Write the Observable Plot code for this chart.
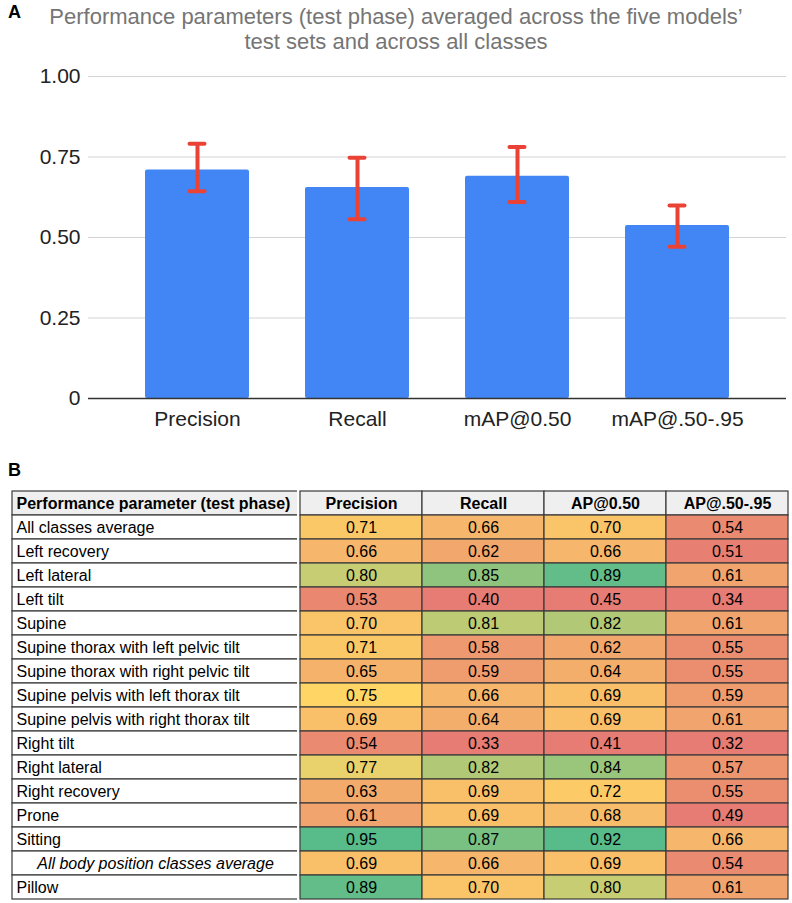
<!DOCTYPE html>
<html>
<head>
<meta charset="utf-8">
<script src="https://cdn.jsdelivr.net/npm/d3@7"></script>
<script src="https://cdn.jsdelivr.net/npm/@observablehq/plot@0.6"></script>
<style>
  html, body { margin: 0; padding: 0; background: #fff; }
  #page { position: relative; width: 792px; height: 903px; overflow: hidden; font-family: "Liberation Sans", Arial, sans-serif; }
  .panel { position: absolute; font-weight: bold; font-size: 18px; color: #000; font-family: "Liberation Sans", Arial, sans-serif; }
  #title { position: absolute; left: 0; top: 4px; width: 792px; text-align: center; font-family: "Liberation Sans", Arial, sans-serif; font-size: 22px; line-height: 25px; color: #757575; }
  #chartA { position: absolute; left: 0; top: 56px; }
  #tblL { position: absolute; left: 11px; top: 486px; }
  #tblR { position: absolute; left: 297px; top: 486px; }
</style>
</head>
<body>
<div id="page">
  <div class="panel" style="left:8px; top:2px;">A</div>
  <div id="title">Performance parameters (test phase) averaged across the five models’<br>test sets and across all classes</div>
  <div id="chartA"></div>
  <div class="panel" style="left:8px; top:460px;">B</div>
  <div id="tblL"></div>
  <div id="tblR"></div>
</div>
<script>
// ---------- Panel A data ----------
const metrics = ["Precision", "Recall", "mAP@0.50", "mAP@.50-.95"];
const meanValues = [0.71, 0.655, 0.69, 0.537];
const errLow = [0.644, 0.557, 0.610, 0.471];
const errHigh = [0.791, 0.748, 0.781, 0.599];
const yTicks = [0, 0.25, 0.5, 0.75, 1];

// ---------- Panel B data ----------
const tableHeader = "Performance parameter (test phase)";
const tableColumns = ["Precision", "Recall", "AP@0.50", "AP@.50-.95"];
const rowLabels = [
  "All classes average",
  "Left recovery",
  "Left lateral",
  "Left tilt",
  "Supine",
  "Supine thorax with left pelvic tilt",
  "Supine thorax with right pelvic tilt",
  "Supine pelvis with left thorax tilt",
  "Supine pelvis with right thorax tilt",
  "Right tilt",
  "Right lateral",
  "Right recovery",
  "Prone",
  "Sitting",
  "All body position classes average",
  "Pillow"
];
const italicRow = "All body position classes average";
const precisionVals = [0.71, 0.66, 0.80, 0.53, 0.70, 0.71, 0.65, 0.75, 0.69, 0.54, 0.77, 0.63, 0.61, 0.95, 0.69, 0.89];
const recallVals    = [0.66, 0.62, 0.85, 0.40, 0.81, 0.58, 0.59, 0.66, 0.64, 0.33, 0.82, 0.69, 0.69, 0.87, 0.66, 0.70];
const ap50Vals      = [0.70, 0.66, 0.89, 0.45, 0.82, 0.62, 0.64, 0.69, 0.69, 0.41, 0.84, 0.72, 0.68, 0.92, 0.69, 0.80];
const ap5095Vals    = [0.54, 0.51, 0.61, 0.34, 0.61, 0.55, 0.55, 0.59, 0.61, 0.32, 0.57, 0.55, 0.49, 0.66, 0.54, 0.61];
const colorDomain = [0.5, 0.75, 0.9];
const colorRange = ["#e67c73", "#ffd666", "#57bb8a"];

// ---------- Panel A ----------
const barData = metrics.map((m, i) => ({metric: m, value: meanValues[i], lo: errLow[i], hi: errHigh[i]}));

const chartA = Plot.plot({
  width: 792,
  height: 386,
  marginTop: 20,
  marginBottom: 44,
  marginLeft: 88,
  marginRight: 6,
  style: {fontFamily: "'Liberation Sans', Arial, sans-serif", fontSize: "21px", color: "#222", background: "white"},
  x: {domain: metrics, padding: 0.35, tickSize: 0, tickPadding: 13, label: null},
  y: {domain: [0, 1], ticks: yTicks, tickSize: 0, tickPadding: 8, label: null,
      tickFormat: d => d === 0 ? "0" : d.toFixed(2)},
  marks: [
    Plot.ruleY(yTicks.filter(t => t > 0), {stroke: "#d3d3d3", strokeWidth: 1.2}),
    Plot.barY(barData, {x: "metric", y: "value", fill: "#4285f4", rx: 2}),
    Plot.ruleY([0], {stroke: "#333", strokeWidth: 1.3}),
    Plot.ruleX(barData, {x: "metric", y1: "lo", y2: "hi", stroke: "#ea4335", strokeWidth: 4}),
    Plot.tickY(barData, {x: "metric", y: "lo", stroke: "#ea4335", strokeWidth: 4, inset: 44.5, strokeLinecap: "round"}),
    Plot.tickY(barData, {x: "metric", y: "hi", stroke: "#ea4335", strokeWidth: 4, inset: 44.5, strokeLinecap: "round"})
  ]
});
document.getElementById("chartA").appendChild(chartA);

// ---------- Panel B ----------
const yDomain = [tableHeader, ...rowLabels];
const colArrays = [precisionVals, recallVals, ap50Vals, ap5095Vals];
const cells = [];
tableColumns.forEach((c, j) => rowLabels.forEach((r, i) => cells.push({column: c, row: r, value: colArrays[j][i]})));

const tableHeight = 417;
const tableStyle = {fontFamily: "'Liberation Sans', Arial, sans-serif", fontSize: "16px", color: "#000", background: "white", overflow: "visible"};
const borderColor = "#3a3a3a";

const tblL = Plot.plot({
  width: 288,
  height: tableHeight,
  margin: 1,
  style: tableStyle,
  x: {domain: ["label"], padding: 0, axis: null},
  y: {domain: yDomain, padding: 0, axis: null},
  marks: [
    Plot.cell([tableHeader], {x: () => "label", y: d => d, fill: "#efefef", stroke: borderColor, strokeWidth: 1.2}),
    Plot.cell(rowLabels, {x: () => "label", y: d => d, fill: "white", stroke: borderColor, strokeWidth: 1.2}),
    Plot.text([tableHeader], {y: d => d, text: d => d, frameAnchor: "left", textAnchor: "start", dx: 4, fontWeight: "bold", fill: "#000"}),
    Plot.text(rowLabels.filter(r => r !== italicRow), {y: d => d, text: d => d, frameAnchor: "left", textAnchor: "start", dx: 4, fill: "#000"}),
    Plot.text([italicRow], {x: () => "label", y: d => d, text: d => d, fontStyle: "italic", fill: "#000"})
  ]
});
document.getElementById("tblL").appendChild(tblL);

const tblR = Plot.plot({
  width: 493,
  height: tableHeight,
  margin: 1,
  style: tableStyle,
  x: {domain: tableColumns, padding: 0, axis: null},
  y: {domain: yDomain, padding: 0, axis: null},
  color: {type: "linear", domain: colorDomain, range: colorRange, clamp: true, interpolate: "rgb"},
  marks: [
    Plot.cell(tableColumns, {x: d => d, y: () => tableHeader, fill: "#efefef", stroke: borderColor, strokeWidth: 1.2}),
    Plot.cell(cells, {x: "column", y: "row", fill: "value", stroke: borderColor, strokeWidth: 1.2}),
    Plot.text(tableColumns, {x: d => d, y: () => tableHeader, text: d => d, fontWeight: "bold", fill: "#000"}),
    Plot.text(cells, {x: "column", y: "row", text: d => d.value.toFixed(2), fill: "#000"})
  ]
});
document.getElementById("tblR").appendChild(tblR);
</script>
</body>
</html>
